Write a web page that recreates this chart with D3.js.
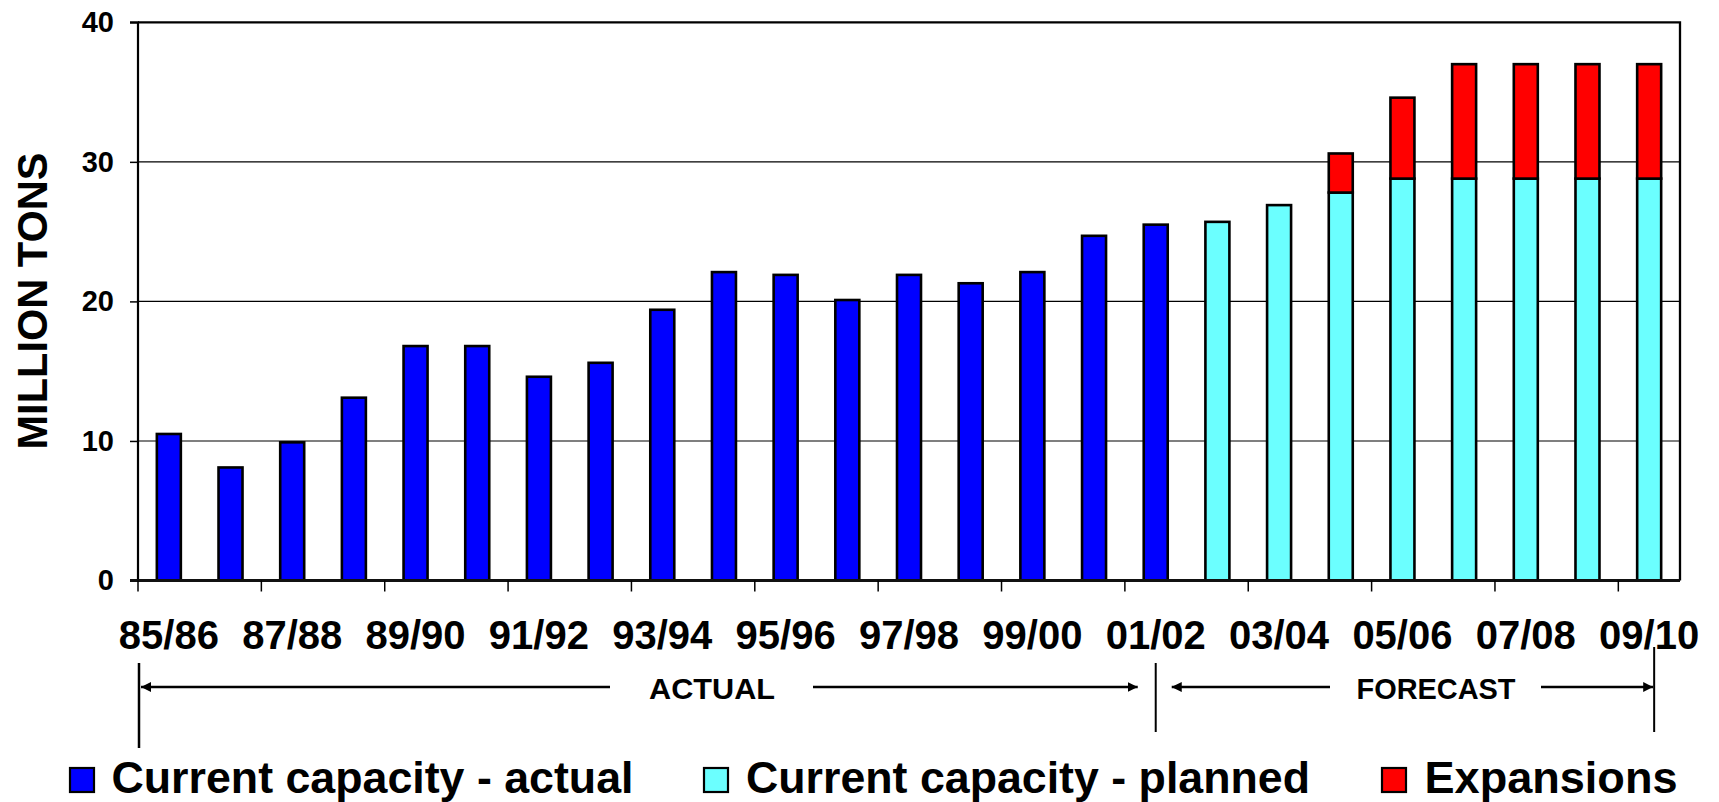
<!DOCTYPE html>
<html>
<head>
<meta charset="utf-8">
<script src="https://cdn.jsdelivr.net/npm/d3@7"></script>
<style>
  html, body { margin: 0; padding: 0; background: #fff; }
  svg { display: block; }
  text { font-family: "Liberation Sans", Arial, sans-serif; font-weight: bold; fill: #000; }
</style>
</head>
<body>
<svg id="chart" width="1719" height="802"></svg>
<script>
// Crop years, 1985/86 through 2009/10
const categories = ["85/86","86/87","87/88","88/89","89/90","90/91","91/92","92/93","93/94","94/95",
  "95/96","96/97","97/98","98/99","99/00","00/01","01/02","02/03","03/04","04/05",
  "05/06","06/07","07/08","08/09","09/10"];

// Current capacity - actual (million tons), 85/86 .. 01/02
const actualYears = categories.slice(0, 17);
const actualValues = [10.5, 8.1, 9.9, 13.1, 16.8, 16.8, 14.6, 15.6, 19.4, 22.1,
  21.9, 20.1, 21.9, 21.3, 22.1, 24.7, 25.5];

// Current capacity - planned, 02/03 .. 09/10
const forecastYears = categories.slice(17);
const plannedValues = [25.7, 26.9, 27.8, 28.8, 28.8, 28.8, 28.8, 28.8];

// Expansions stacked on top of planned capacity
const expansionValues = [0, 0, 2.8, 5.8, 8.2, 8.2, 8.2, 8.2];

// Axis tick labels
const yTicks = [0, 10, 20, 30, 40];
const xTickLabels = categories.filter((d, i) => i % 2 === 0);

const seriesNames = ["Current capacity - actual", "Current capacity - planned", "Expansions"];
const seriesColors = ["#0000ff", "#6bffff", "#ff0000"];

const svg = d3.select("#chart");
const plotLeft = 138, plotRight = 1680, plotTop = 22.3, plotBottom = 580.5;

const x = d3.scaleBand().domain(categories).range([plotLeft, plotRight])
  .paddingInner(0.611).paddingOuter(0.3055);
const step = x.step();
const edge = d => x(d) - (step - x.bandwidth()) / 2;   // left boundary of a category slot
const mid = d => x(d) + x.bandwidth() / 2;
const y = d3.scaleLinear().domain([0, 40]).range([plotBottom, plotTop]);

// gridlines
svg.append("g").selectAll("line").data(yTicks.filter(v => v > 0 && v < 40)).join("line")
  .attr("x1", plotLeft).attr("x2", plotRight)
  .attr("y1", d => y(d)).attr("y2", d => y(d))
  .attr("stroke", "#000").attr("stroke-width", 1.1);

// y axis
const yAxis = svg.append("g").attr("transform", `translate(${plotLeft},0)`)
  .call(d3.axisLeft(y).tickValues(yTicks).tickSize(8).tickPadding(16));
yAxis.select(".domain").attr("stroke-width", 2.2).attr("d", `M-8,${plotBottom}H0V${plotTop}H-8`);
yAxis.selectAll(".tick line").attr("stroke-width", 1.5);
yAxis.selectAll(".tick text").attr("font-size", 29).attr("font-family", "Liberation Sans, Arial, sans-serif")
  .attr("font-weight", "bold").attr("fill", "#000");

// frame top and right
svg.append("path").attr("d", `M${plotLeft},${plotTop}H${plotRight}V${plotBottom}`)
  .attr("fill", "none").attr("stroke", "#000").attr("stroke-width", 2.3);

// bars
const barStroke = 2.6;
const actualData = actualYears.map((c, i) => ({c, v: actualValues[i]}));
svg.append("g").selectAll("rect").data(actualData).join("rect")
  .attr("x", d => x(d.c)).attr("width", x.bandwidth())
  .attr("y", d => y(d.v)).attr("height", d => y(0) - y(d.v))
  .attr("fill", seriesColors[0]).attr("stroke", "#000").attr("stroke-width", barStroke);

const plannedData = forecastYears.map((c, i) => ({c, p: plannedValues[i], e: expansionValues[i]}));
svg.append("g").selectAll("rect").data(plannedData).join("rect")
  .attr("x", d => x(d.c)).attr("width", x.bandwidth())
  .attr("y", d => y(d.p)).attr("height", d => y(0) - y(d.p))
  .attr("fill", seriesColors[1]).attr("stroke", "#000").attr("stroke-width", barStroke);
svg.append("g").selectAll("rect").data(plannedData.filter(d => d.e > 0)).join("rect")
  .attr("x", d => x(d.c)).attr("width", x.bandwidth())
  .attr("y", d => y(d.p + d.e)).attr("height", d => y(d.p) - y(d.p + d.e))
  .attr("fill", seriesColors[2]).attr("stroke", "#000").attr("stroke-width", barStroke);

// x axis line and ticks
svg.append("line").attr("x1", plotLeft - 8).attr("x2", plotRight).attr("y1", plotBottom).attr("y2", plotBottom)
  .attr("stroke", "#111").attr("stroke-width", 3);
svg.append("g").selectAll("line").data(xTickLabels).join("line")
  .attr("x1", d => edge(d)).attr("x2", d => edge(d))
  .attr("y1", plotBottom).attr("y2", plotBottom + 11)
  .attr("stroke", "#000").attr("stroke-width", 1.5);
svg.append("g").selectAll("text").data(xTickLabels).join("text")
  .attr("x", d => mid(d)).attr("y", 649)
  .attr("text-anchor", "middle").attr("font-size", 40)
  .text(d => d);

// y axis title
svg.append("text")
  .attr("transform", "translate(46.5,301) rotate(-90)")
  .attr("text-anchor", "middle").attr("font-size", 42)
  .attr("textLength", 297).attr("lengthAdjust", "spacingAndGlyphs")
  .text("MILLION TONS");

// ACTUAL / FORECAST period markers
const defs = svg.append("defs");
defs.append("marker").attr("id", "head").attr("viewBox", "0 0 10 10")
  .attr("refX", 10).attr("refY", 5).attr("markerWidth", 4).attr("markerHeight", 4)
  .attr("orient", "auto-start-reverse").attr("markerUnits", "strokeWidth")
  .append("path").attr("d", "M0,0L10,5L0,10Z").attr("fill", "#000");

const divX = mid("01/02");
const endX = mid("09/10") + 5;
const lineY = 687;
const ann = svg.append("g").attr("stroke", "#000");
ann.append("line").attr("x1", plotLeft + 1).attr("x2", plotLeft + 1).attr("y1", 663).attr("y2", 748).attr("stroke-width", 2.5);
ann.append("line").attr("x1", divX).attr("x2", divX).attr("y1", 663).attr("y2", 732).attr("stroke-width", 2);
ann.append("line").attr("x1", endX).attr("x2", endX).attr("y1", 647).attr("y2", 732).attr("stroke-width", 2);

const arrows = [
  [610, plotLeft + 3], [813, divX - 18],
  [1330, divX + 16], [1541, endX - 1]
];
ann.selectAll("line.arrow").data(arrows).join("line").attr("class", "arrow")
  .attr("x1", d => d[0]).attr("x2", d => d[1]).attr("y1", lineY).attr("y2", lineY)
  .attr("stroke-width", 2.5).attr("marker-end", "url(#head)");

svg.append("text").attr("x", 712).attr("y", 699).attr("text-anchor", "middle")
  .attr("font-size", 30).attr("textLength", 126).attr("lengthAdjust", "spacingAndGlyphs").text("ACTUAL");
svg.append("text").attr("x", 1436).attr("y", 699).attr("text-anchor", "middle")
  .attr("font-size", 30).attr("textLength", 159).attr("lengthAdjust", "spacingAndGlyphs").text("FORECAST");

// legend
const legendItems = [
  {name: seriesNames[0], color: seriesColors[0], sx: 70, tx: 111.5, w: 522},
  {name: seriesNames[1], color: seriesColors[1], sx: 704, tx: 746, w: 564},
  {name: seriesNames[2], color: seriesColors[2], sx: 1382, tx: 1424.5, w: 253}
];
const lg = svg.append("g");
lg.selectAll("rect").data(legendItems).join("rect")
  .attr("x", d => d.sx).attr("y", 768).attr("width", 24).attr("height", 24)
  .attr("fill", d => d.color).attr("stroke", "#000").attr("stroke-width", 2.2);
lg.selectAll("text").data(legendItems).join("text")
  .attr("x", d => d.tx).attr("y", 793).attr("font-size", 45)
  .attr("textLength", d => d.w).attr("lengthAdjust", "spacingAndGlyphs")
  .text(d => d.name);
</script>
</body>
</html>
